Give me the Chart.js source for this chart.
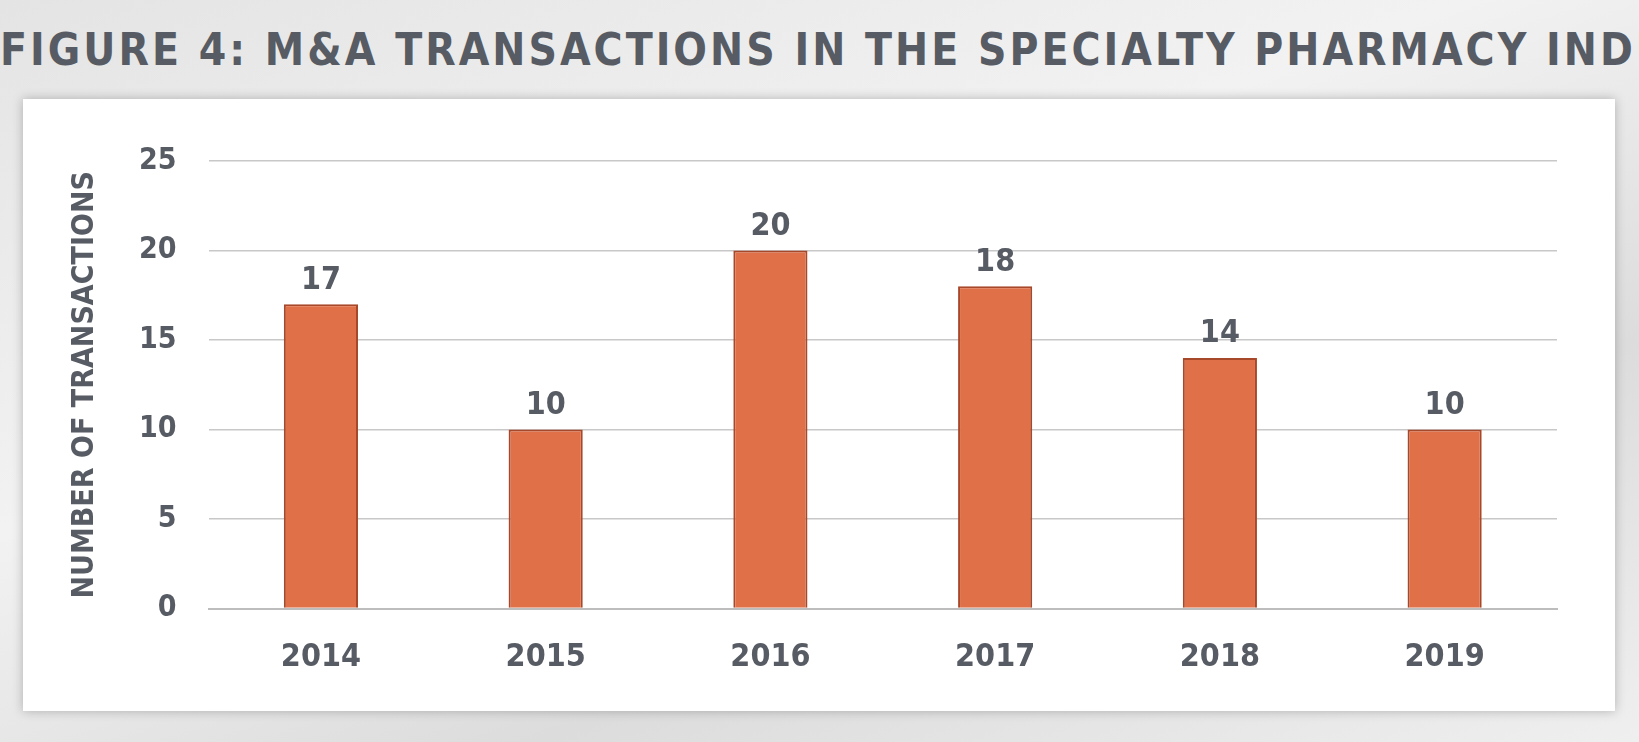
<!DOCTYPE html>
<html>
<head>
<meta charset="utf-8">
<script src="https://cdn.jsdelivr.net/npm/chart.js@4.4.1/dist/chart.umd.min.js"></script>
<style>
  body { margin:0; width:1639px; height:742px; overflow:hidden;
         background: linear-gradient(160deg,#e4e4e4 0%,#f2f2f2 40%,#dcdcdc 70%,#efefef 100%);
         font-family:'DejaVu Sans Condensed','Liberation Sans Narrow',sans-serif; }
  #title { position:absolute; top:24px; left:0; width:1639px; text-align:center; white-space:nowrap;
           font-weight:bold; font-size:44px; letter-spacing:3px; color:#575b63; font-stretch:condensed; }
  #panel { position:absolute; left:23px; top:99px; width:1592px; height:612px;
           background:#fff; box-shadow:0 0 10px rgba(0,0,0,0.25); }
</style>
</head>
<body>
<div id="title">FIGURE 4: M&amp;A TRANSACTIONS IN THE SPECIALTY PHARMACY INDUSTRY</div>
<div id="panel"><canvas id="c" width="1592" height="612"></canvas></div>
<script>
const years = ['2014', '2015', '2016', '2017', '2018', '2019'];
const transactions = [17, 10, 20, 18, 14, 10];
const yTicks = [0, 5, 10, 15, 20, 25];

const fontFam = "'DejaVu Sans Condensed','Liberation Sans Narrow',sans-serif";
const textColor = '#575b63';

const valueLabels = {
    id: 'valueLabels',
    afterDatasetsDraw(chart) {
        const ctx = chart.ctx;
        const meta = chart.getDatasetMeta(0);
        ctx.save();
        ctx.font = 'bold 32px ' + fontFam;
        ctx.fillStyle = textColor;
        ctx.textAlign = 'center';
        ctx.textBaseline = 'bottom';
        meta.data.forEach((bar, i) => {
            ctx.fillText(transactions[i], bar.x, bar.y - 8);
        });
        ctx.restore();
    }
};

new Chart(document.getElementById('c').getContext('2d'), {
    type: 'bar',
    data: {
        labels: years,
        datasets: [{
            data: transactions,
            backgroundColor: '#e07048',
            borderColor: '#a8482a',
            borderWidth: 2,
            barPercentage: 0.33,
            categoryPercentage: 1
        }]
    },
    options: {
        responsive: false,
        animation: false,
        layout: { padding: { top: 62, right: 58, bottom: 12, left: 40 } },
        plugins: { legend: { display: false }, tooltip: { enabled: false } },
        scales: {
            x: {
                grid: { display: false },
                border: { color: '#bdbdbd', width: 2 },
                ticks: { color: textColor, font: { family: fontFam, size: 32, weight: 'bold' }, padding: 22 }
            },
            y: {
                min: 0, max: 25,
                afterBuildTicks(axis) { axis.ticks = yTicks.map(v => ({ value: v })); },
                grid: { color: '#c8c8c8', lineWidth: 1.5, drawTicks: false },
                border: { display: false },
                ticks: { color: textColor, font: { family: fontFam, size: 30, weight: 'bold' }, padding: 32 },
                title: { display: true, text: 'NUMBER OF TRANSACTIONS', color: textColor,
                         font: { family: fontFam, size: 30, weight: 'bold' } }
            }
        }
    },
    plugins: [valueLabels]
});
</script>
</body>
</html>
